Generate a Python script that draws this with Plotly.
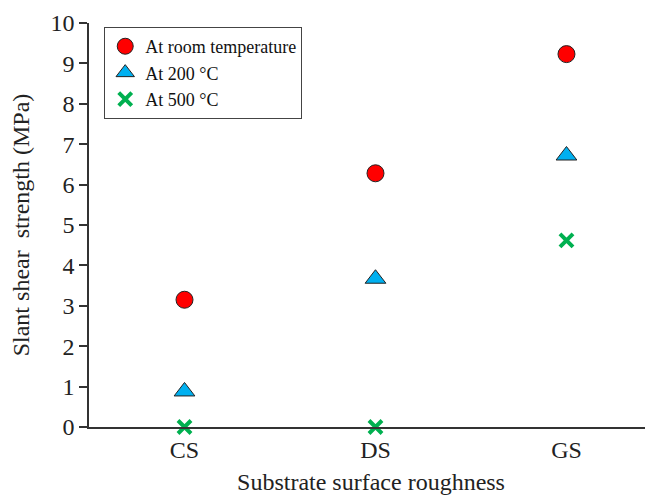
import plotly.graph_objects as go

categories = ["CS", "DS", "GS"]
room_temp = [3.15, 6.28, 9.23]
at_200 = [0.88, 3.67, 6.72]
at_500 = [0.0, 0.0, 4.62]

xpos = list(range(len(categories)))
font = "Liberation Serif, Times New Roman, serif"

fig = go.Figure()
fig.add_trace(go.Scatter(x=xpos, y=room_temp, mode="markers", name="At room temperature",
                         cliponaxis=False,
                         marker=dict(symbol="circle", size=17, color="#ff0000",
                                     line=dict(color="#222222", width=1))))
fig.add_trace(go.Scatter(x=xpos, y=at_200, mode="markers", name="At 200 °C",
                         cliponaxis=False,
                         marker=dict(symbol="triangle-up", size=18, color="#00b0f0",
                                     line=dict(color="#222222", width=1))))
fig.add_trace(go.Scatter(x=xpos, y=at_500, mode="markers", name="At 500 °C",
                         cliponaxis=False,
                         marker=dict(symbol="x-thin", size=13, color="#00b050",
                                     line=dict(color="#00b050", width=4))))

fig.update_layout(
    width=645, height=487,
    margin=dict(l=81, r=0, t=15, b=68),
    paper_bgcolor="white", plot_bgcolor="white",
    font=dict(family=font, size=24, color="#222222"),
    showlegend=True,
    legend=dict(x=0.027, y=0.99, xanchor="left", yanchor="top",
                bgcolor="white", bordercolor="#444444", borderwidth=1,
                font=dict(family=font, size=18, color="#111111"),
                itemwidth=30, tracegroupgap=0,
                traceorder="normal"),
    xaxis=dict(range=[-0.5, 2.453], tickmode="array", tickvals=xpos, ticktext=categories,
               showgrid=False, zeroline=False, showline=True, linecolor="#333333",
               linewidth=1.5, ticks="", ticklen=0, automargin=False,
               title=dict(text="Substrate surface roughness", standoff=12,
                          font=dict(family=font, size=24)),
               tickfont=dict(family=font, size=24)),
    yaxis=dict(range=[0, 10], dtick=1, showgrid=False, zeroline=False, showline=True,
               linecolor="#333333", linewidth=1.5, ticks="outside", ticklen=8,
               tickcolor="#333333", tickwidth=1.5, automargin=False,
               title=dict(text="Slant shear  strength (MPa)", standoff=14,
                          font=dict(family=font, size=24)),
               tickfont=dict(family=font, size=24)),
)

fig.write_html("out.html")
